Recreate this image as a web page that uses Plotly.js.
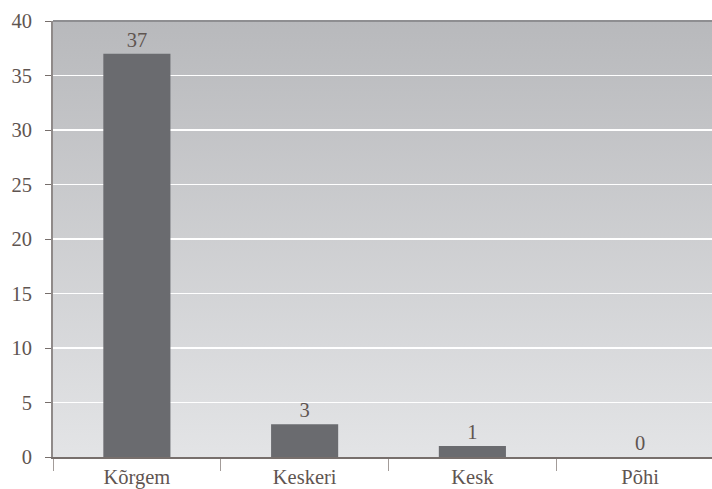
<!DOCTYPE html>
<html>
<head>
<meta charset="utf-8">
<script src="https://cdn.plot.ly/plotly-3.0.1.min.js"></script>
<style>
  html, body { margin: 0; padding: 0; background: #ffffff; overflow: hidden; }
  #chart { width: 724px; height: 489px; }
</style>
</head>
<body>
<div id="chart"></div>
<script>
// Education level counts
const categories = ['Kõrgem', 'Keskeri', 'Kesk', 'Põhi'];
const counts = [37, 3, 1, 0];
const yTicks = [0, 5, 10, 15, 20, 25, 30, 35, 40];

const textColor = '#5f5551';
const fontFamily = '"Liberation Serif", "DejaVu Serif", serif';
const fontSize = 20.5;

// Vertical grey gradient for the plot background
const gradientSvg =
  '<svg xmlns="http://www.w3.org/2000/svg" width="10" height="100" preserveAspectRatio="none">' +
  '<defs><linearGradient id="g" x1="0" y1="0" x2="0" y2="1">' +
  '<stop offset="0" stop-color="#b8b9bc"/><stop offset="1" stop-color="#e3e4e6"/>' +
  '</linearGradient></defs><rect width="10" height="100" fill="url(#g)"/></svg>';
const gradientUri = 'data:image/svg+xml;charset=utf-8,' + encodeURIComponent(gradientSvg);

const trace = {
  type: 'bar',
  x: categories,
  y: counts,
  width: 0.4,
  marker: { color: '#6a6b6f' },
  text: counts.map(String),
  textposition: 'outside',
  textfont: { family: fontFamily, size: fontSize, color: textColor },
  cliponaxis: false,
  hoverinfo: 'skip'
};

const layout = {
  width: 724,
  height: 489,
  margin: { l: 53, r: 0, t: 21, b: 32 },
  paper_bgcolor: '#ffffff',
  plot_bgcolor: 'rgba(0,0,0,0)',
  showlegend: false,
  font: { family: fontFamily, size: fontSize, color: textColor },
  images: [{
    source: gradientUri,
    xref: 'paper', yref: 'paper',
    x: 0, y: 1, sizex: 1, sizey: 1,
    xanchor: 'left', yanchor: 'top',
    sizing: 'stretch',
    layer: 'below'
  }],
  shapes: [{
    type: 'line', xref: 'paper', yref: 'paper',
    x0: 0, x1: 1, y0: 1, y1: 1,
    line: { color: '#8e8e91', width: 2 }
  }],
  xaxis: {
    type: 'category',
    tickson: 'boundaries',
    ticks: 'outside',
    ticklen: 12,
    tickwidth: 1,
    tickcolor: '#a39c99',
    showline: true,
    linecolor: '#776f6c',
    linewidth: 2,
    showgrid: false,
    zeroline: false,
    tickfont: { family: fontFamily, size: fontSize, color: textColor },
    fixedrange: true
  },
  yaxis: {
    range: [0, 40],
    tickvals: yTicks,
    ticktext: yTicks.map(String),
    ticks: 'outside',
    ticklen: 6,
    tickwidth: 1,
    tickcolor: '#776f6c',
    ticklabelstandoff: 9,
    showline: true,
    linecolor: '#8f8a89',
    linewidth: 2,
    showgrid: true,
    gridcolor: '#ffffff',
    gridwidth: 1.5,
    zeroline: false,
    tickfont: { family: fontFamily, size: fontSize, color: textColor },
    fixedrange: true
  },
  bargap: 0.6
};

Plotly.newPlot('chart', [trace], layout, { staticPlot: true, displayModeBar: false });
</script>
</body>
</html>
